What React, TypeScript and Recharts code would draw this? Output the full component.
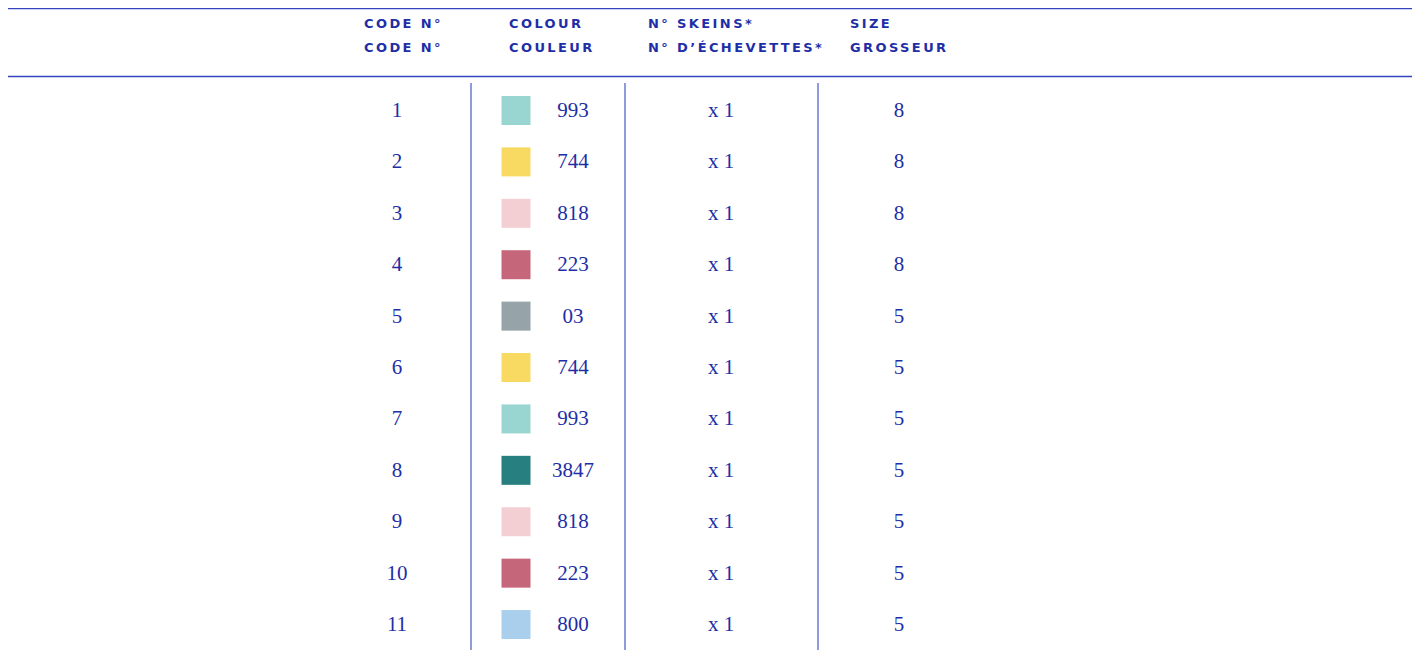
import { ScatterChart, Scatter, XAxis, YAxis, ReferenceLine } from "recharts"

// table content
const codes = [1, 2, 3, 4, 5, 6, 7, 8, 9, 10, 11]
const colourNumbers = ["993", "744", "818", "223", "03", "744", "993", "3847", "818", "223", "800"]
const swatchColours = [
  "#99d6d2",
  "#f8da63",
  "#f3cfd3",
  "#c6667b",
  "#96a3a9",
  "#f8da63",
  "#99d6d2",
  "#277f7f",
  "#f3cfd3",
  "#c6667b",
  "#a9cfed",
]
const skeins = ["x 1", "x 1", "x 1", "x 1", "x 1", "x 1", "x 1", "x 1", "x 1", "x 1", "x 1"]
const sizes = [8, 8, 8, 8, 5, 5, 5, 5, 5, 5, 5]

const headerTop = ["CODE N°", "COLOUR", "N° SKEINS*", "SIZE"]
const headerBottom = ["CODE N°", "COULEUR", "N° D’ÉCHEVETTES*", "GROSSEUR"]

// layout
const W = 1422
const H = 659
const TEXT = "#1e2ea6"
const RULE = "#3444c0"
const DIVIDER = "#7482d2"
const COL = { code: 397, swatch: 516, colour: 573, skeins: 721, size: 899 }
const HEADER_X = [364, 509, 648, 850]
const ROW_DOMAIN: [number, number] = [-2.14, 10.68]
const RULE_ROWS = [-1.975, -0.652]
const DIVIDER_X = [471, 625, 818]
const DIVIDER_ROWS: [number, number] = [-0.525, 10.506]
const HEADER_ROWS = [-1.68, -1.21]

const rows = codes.map((code, i) => ({
  row: i,
  code,
  colour: colourNumbers[i],
  swatch: swatchColours[i],
  skeins: skeins[i],
  size: sizes[i],
}))

const headerCells = [
  ...headerTop.map((text, i) => ({ x: HEADER_X[i], row: HEADER_ROWS[0], text })),
  ...headerBottom.map((text, i) => ({ x: HEADER_X[i], row: HEADER_ROWS[1], text })),
]

const numberText = (field: string) => (props: any) => (
  <text
    x={props.cx}
    y={props.cy}
    textAnchor="middle"
    dominantBaseline="central"
    fill={TEXT}
    fontFamily="'Liberation Serif', serif"
    fontSize={21}
  >
    {props.payload[field]}
  </text>
)

const swatchShape = (props: any) => (
  <rect x={props.cx - 14.5} y={props.cy - 14} width={29} height={29} fill={props.payload.swatch} />
)

const headerShape = (props: any) => (
  <text
    x={props.cx}
    y={props.cy}
    dominantBaseline="central"
    fill={TEXT}
    fontFamily="'DejaVu Sans', sans-serif"
    fontWeight="bold"
    fontSize={13}
    letterSpacing={2.4}
  >
    {props.payload.text}
  </text>
)

const atX = (x: number) => rows.map((r) => ({ ...r, x }))

export default function App() {
  return (
    <div style={{ margin: -8, width: W, height: H, background: "#fff" }}>
      <ScatterChart width={W} height={H} margin={{ top: 0, right: 0, bottom: 0, left: 0 }}>
        <XAxis type="number" dataKey="x" domain={[0, W]} hide allowDataOverflow />
        <YAxis type="number" dataKey="row" domain={ROW_DOMAIN} reversed hide allowDataOverflow />

        {RULE_ROWS.map((r) => (
          <ReferenceLine
            key={`rule-${r}`}
            segment={[
              { x: 3, y: r },
              { x: 1412, y: r },
            ]}
            stroke={RULE}
            strokeWidth={1.3}
            ifOverflow="visible"
          />
        ))}
        {DIVIDER_X.map((x) => (
          <ReferenceLine
            key={`div-${x}`}
            segment={[
              { x, y: DIVIDER_ROWS[0] },
              { x, y: DIVIDER_ROWS[1] },
            ]}
            stroke={DIVIDER}
            strokeWidth={1.6}
            ifOverflow="visible"
          />
        ))}

        <Scatter data={headerCells} dataKey="row" shape={headerShape} isAnimationActive={false} />
        <Scatter data={atX(COL.code)} dataKey="row" shape={numberText("code")} isAnimationActive={false} />
        <Scatter data={atX(COL.swatch)} dataKey="row" shape={swatchShape} isAnimationActive={false} />
        <Scatter data={atX(COL.colour)} dataKey="row" shape={numberText("colour")} isAnimationActive={false} />
        <Scatter data={atX(COL.skeins)} dataKey="row" shape={numberText("skeins")} isAnimationActive={false} />
        <Scatter data={atX(COL.size)} dataKey="row" shape={numberText("size")} isAnimationActive={false} />
      </ScatterChart>
    </div>
  )
}
